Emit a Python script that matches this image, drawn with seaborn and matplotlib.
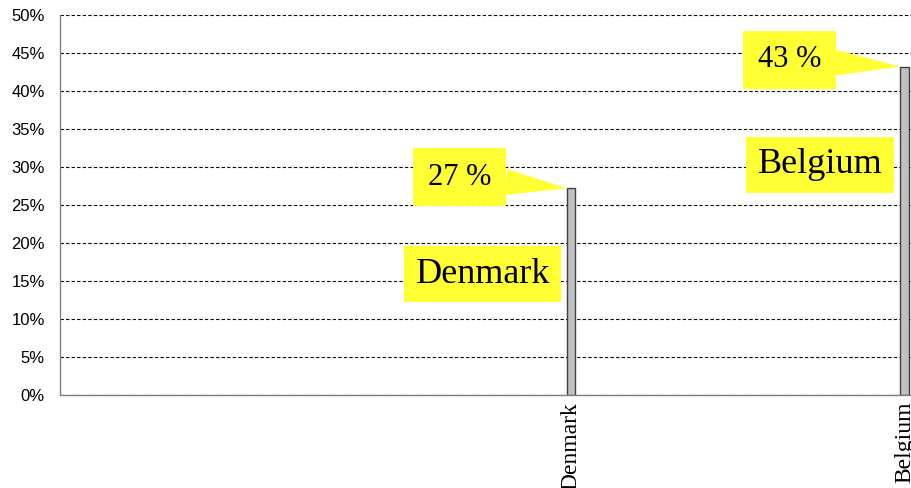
import seaborn as sns
import matplotlib.pyplot as plt
from matplotlib.ticker import PercentFormatter, MultipleLocator

countries = ['Denmark', 'Belgium']
shares = [27.2, 43.2]  # percent

sns.set_style('white')
plt.rcParams['font.family'] = ['Liberation Sans', 'DejaVu Sans']
plt.rcParams['text.color'] = 'black'

fig = plt.figure(figsize=(9.12, 4.88), dpi=100)
ax = fig.add_axes([0.0658, 0.1906, 0.9342, 0.7786])

sns.barplot(x=countries, y=shares, width=0.0255, color='#C0C0C0', saturation=1,
            edgecolor='#404040', linewidth=1, ax=ax)

ax.set_ylim(0, 50)
ax.set_xlim(-1.532, 1.0225)
ax.yaxis.set_major_locator(MultipleLocator(5))
ax.yaxis.set_major_formatter(PercentFormatter(decimals=0))
ax.set_axisbelow(True)
ax.yaxis.grid(True, linestyle=(0, (3, 2)), color='black', linewidth=0.8)
ax.set_xlabel('')
ax.set_ylabel('')

for side in ['top', 'right']:
    ax.spines[side].set_visible(False)
for side in ['left', 'bottom']:
    ax.spines[side].set_color('#808080')
    ax.spines[side].set_linewidth(1)

ax.tick_params(axis='y', length=0, pad=11, labelsize=12, labelcolor='black')
ax.tick_params(axis='x', length=0, pad=5, labelcolor='black')
for lbl in ax.get_xticklabels():
    lbl.set_rotation(90)
    lbl.set_fontfamily(['Liberation Serif', 'DejaVu Serif'])
    lbl.set_fontsize(17)
    lbl.set_va('top')

yellow = '#FFFF33'
# offsets (pixels) of the callout boxes from each bar's top-left corner
value_offsets = [(-107, 11), (-111, 7)]
name_offsets = [(-84, -86), (-80, -98)]

for bar, name, v, voff, noff in zip(ax.patches, countries, shares, value_offsets, name_offsets):
    tip = (bar.get_x(), bar.get_height())
    ax.annotate(f'{v:.0f} %', xy=tip, xytext=voff, textcoords='offset pixels',
                ha='center', va='center', fontsize=22, color='black',
                family=['Liberation Serif', 'DejaVu Serif'],
                bbox=dict(boxstyle='square,pad=0.48', fc=yellow, ec='none'),
                arrowprops=dict(arrowstyle='wedge,tail_width=0.85,shrink_factor=0.5',
                                fc=yellow, ec='none', shrinkA=0, shrinkB=0),
                zorder=5)
    ax.annotate(name, xy=tip, xytext=noff, textcoords='offset pixels',
                ha='center', va='center', fontsize=26, color='black',
                family=['Liberation Serif', 'DejaVu Serif'],
                bbox=dict(boxstyle='square,pad=0.32', fc=yellow, ec='none'),
                zorder=5)

fig.savefig('out.png', dpi=100)
